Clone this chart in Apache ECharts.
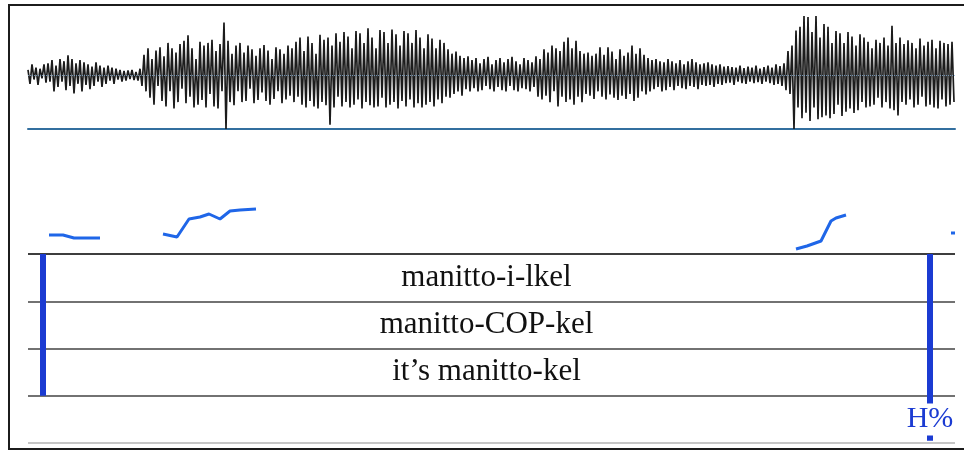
<!DOCTYPE html>
<html>
<head>
<meta charset="utf-8">
<script src="https://cdn.jsdelivr.net/npm/echarts@6/dist/echarts.min.js"></script>
<style>
	html,body{margin:0;padding:0;background:#fff;}
	#map{width:964px;height:452px;}
</style>
</head>
<body>
<div id="map"></div>
<script>
// time axis in ms, waveform sampled every 2 ms (amplitude 1 = full height)
var wavestep = 2;
var wavevalues = [
	0.1,-0.16,0.2,-0.08,0.14,-0.18,0.12,-0.06,0.2,-0.14,
	0.22,-0.12,0.28,-0.3,0.18,-0.22,0.3,-0.12,0.26,-0.28,
	0.37,-0.2,0.3,-0.34,0.22,-0.16,0.28,-0.3,0.24,-0.18,
	0.2,-0.26,0.16,-0.2,0.24,-0.12,0.18,-0.22,0.14,-0.16,
	0.18,-0.1,0.14,-0.16,0.12,-0.08,0.1,-0.12,0.08,-0.1,
	0.09,-0.07,0.1,-0.09,0.06,-0.1,0.12,-0.2,0.38,-0.3,
	0.5,-0.42,0.3,-0.55,0.46,-0.2,0.52,-0.48,0.35,-0.58,
	0.6,-0.3,0.5,-0.62,0.42,-0.5,0.58,-0.25,0.64,-0.52,
	0.74,-0.4,0.5,-0.6,0.3,-0.55,0.62,-0.46,0.55,-0.6,
	0.6,-0.35,0.66,-0.58,0.45,-0.62,0.58,-0.3,0.98,-1.0,
	0.64,-0.5,0.4,-0.56,0.55,-0.3,0.6,-0.5,0.42,-0.48,
	0.55,-0.25,0.48,-0.52,0.36,-0.46,0.5,-0.32,0.56,-0.48,
	0.46,-0.55,0.3,-0.44,0.52,-0.3,0.48,-0.52,0.4,-0.45,
	0.55,-0.38,0.5,-0.5,0.62,-0.4,0.7,-0.55,0.45,-0.6,
	0.72,-0.48,0.6,-0.58,0.4,-0.62,0.75,-0.5,0.66,-0.56,
	0.7,-0.92,0.55,-0.6,0.78,-0.4,0.62,-0.58,0.8,-0.5,
	0.72,-0.6,0.5,-0.55,0.82,-0.45,0.78,-0.62,0.6,-0.5,
	0.87,-0.56,0.7,-0.6,0.5,-0.58,0.84,-0.42,0.8,-0.6,
	0.6,-0.55,0.85,-0.5,0.76,-0.62,0.55,-0.48,0.82,-0.58,
	0.78,-0.45,0.6,-0.6,0.84,-0.52,0.7,-0.6,0.5,-0.55,
	0.76,-0.5,0.68,-0.58,0.5,-0.45,0.66,-0.52,0.6,-0.4,
	0.48,-0.42,0.4,-0.35,0.44,-0.3,0.36,-0.38,0.32,-0.26,
	0.35,-0.3,0.28,-0.24,0.32,-0.3,0.22,-0.28,0.3,-0.2,
	0.34,-0.26,0.2,-0.3,0.28,-0.22,0.32,-0.28,0.24,-0.3,
	0.3,-0.2,0.34,-0.28,0.26,-0.3,0.2,-0.24,0.32,-0.26,
	0.28,-0.3,0.24,-0.22,0.35,-0.4,0.3,-0.45,0.48,-0.38,
	0.42,-0.5,0.55,-0.3,0.5,-0.58,0.45,-0.4,0.62,-0.5,
	0.7,-0.45,0.5,-0.55,0.64,-0.4,0.45,-0.5,0.4,-0.35,
	0.42,-0.38,0.36,-0.44,0.4,-0.3,0.52,-0.4,0.38,-0.45,
	0.52,-0.36,0.44,-0.42,0.3,-0.46,0.48,-0.38,0.36,-0.44,
	0.42,-0.35,0.55,-0.48,0.4,-0.42,0.5,-0.3,0.38,-0.36,
	0.32,-0.3,0.28,-0.26,0.3,-0.22,0.26,-0.3,0.24,-0.28,
	0.3,-0.22,0.26,-0.28,0.22,-0.2,0.28,-0.24,0.2,-0.26,
	0.26,-0.2,0.3,-0.22,0.24,-0.26,0.2,-0.18,0.22,-0.2,
	0.24,-0.18,0.2,-0.22,0.18,-0.16,0.2,-0.18,0.16,-0.15,
	0.17,-0.14,0.15,-0.18,0.14,-0.12,0.18,-0.15,0.13,-0.16,
	0.16,-0.12,0.14,-0.15,0.18,-0.13,0.12,-0.16,0.15,-0.12,
	0.18,-0.15,0.14,-0.18,0.2,-0.16,0.17,-0.2,0.22,-0.28,
	0.45,-0.35,0.55,-1.0,0.83,-0.6,0.9,-0.8,1.1,-0.7,
	1.08,-0.85,0.8,-0.6,1.1,-0.82,0.7,-0.78,0.95,-0.75,
	0.9,-0.8,0.6,-0.72,0.82,-0.55,0.78,-0.76,0.6,-0.68,
	0.8,-0.62,0.72,-0.7,0.55,-0.65,0.76,-0.5,0.7,-0.6,
	0.62,-0.58,0.5,-0.55,0.66,-0.42,0.6,-0.6,0.7,-0.5,
	0.55,-0.62,0.92,-0.65,0.6,-0.75,0.7,-0.5,0.58,-0.55,
	0.65,-0.45,0.6,-0.6,0.5,-0.55,0.68,-0.4,0.55,-0.58,
	0.62,-0.55,0.66,-0.6,0.5,-0.62,0.64,-0.45,0.6,-0.58,
	0.58,-0.55,0.62,-0.5
];
// pitch track pieces [ms, Hz]
var pitch1 = [[21,113],[35,113],[46,107],[72,107]];
var pitch2 = [[135,115],[149,109],[161,145],[172,149],[181,155],[192,145],[202,161],[212,163],[228,165]];
var pitch3 = [[768,85],[779,91],[793,101],[803,141],[808,147],[818,153]];
var pitch4 = [[923,117],[927,117]];
// tiers
var boundaries = [15, 902];
var tiertexts = ['manitto-i-lkel', 'manitto-COP-kel', 'it\u2019s manitto-kel'];
var tonelabel = 'H%';
var duration = 927;

var mychart;
var blue = '#1b3bd2';
var pitchblue = '#1f66e8';

function wavedata()
{
	var d = [];
	for(var i=0;i<wavevalues.length;i++)
		{
			d.push([i*wavestep, wavevalues[i]]);
		}
	return d;
}
function pitchseries(data)
{
	return {
		type: 'line',
		xAxisIndex: 1,
		yAxisIndex: 1,
		data: data,
		symbol: 'none',
		silent: true,
		lineStyle: {color: pitchblue, width: 3}
	};
}
function tierdata()
{
	var d = [];
	var mid = (boundaries[0]+boundaries[1])/2;
	for(var i=0;i<tiertexts.length;i++)
		{
			d.push({name: tiertexts[i], value: [mid, 3.5-i]});
		}
	return d;
}
function display()
{
	mychart = echarts.init(document.getElementById('map'));
	var option = {
		backgroundColor: '#fff',
		animation: false,
		grid: [
			{left: 28, right: 9, top: 16, height: 113},   //waveform
			{left: 28, right: 9, top: 130, height: 124},  //pitch
			{left: 28, right: 9, top: 254, height: 189}   //text tiers
		],
		xAxis: [
			{type: 'value', gridIndex: 0, min: 0, max: duration, axisLabel: {show: false}, axisTick: {show: false}, splitLine: {show: false},
			 axisLine: {show: true, onZero: false, lineStyle: {color: '#336f9f', width: 2}}},
			{type: 'value', gridIndex: 1, min: 0, max: duration, show: false},
			{type: 'value', gridIndex: 2, min: 0, max: duration, show: false}
		],
		yAxis: [
			{type: 'value', gridIndex: 0, min: -1, max: 1.1, show: false},
			{type: 'value', gridIndex: 1, min: 75, max: 323, show: false},
			{type: 'value', gridIndex: 2, min: 0, max: 4, interval: 1,
			 axisLabel: {show: false}, axisTick: {show: false}, axisLine: {show: false},
			 splitLine: {show: true, lineStyle: {color: ['#c6c6c6','#727272','#727272','#727272','#3e3e3e'], width: 2}}}
		],
		series: [
			{
				type: 'line',
				xAxisIndex: 0,
				yAxisIndex: 0,
				data: wavedata(),
				symbol: 'none',
				silent: true,
				lineStyle: {color: '#1c1c1c', width: 1.7},
				markLine: {
					silent: true,
					symbol: 'none',
					label: {show: false},
					lineStyle: {color: '#7fa9cf', type: 'dotted', width: 1, opacity: 0.8},
					data: [{yAxis: 0}]
				}
			},
			pitchseries(pitch1),
			pitchseries(pitch2),
			pitchseries(pitch3),
			pitchseries(pitch4),
			{
				type: 'line',
				xAxisIndex: 2,
				yAxisIndex: 2,
				z: 2,
				data: [[boundaries[0],4],[boundaries[0],1]],
				symbol: 'none',
				silent: true,
				lineStyle: {color: blue, width: 6, cap: 'butt'}
			},
			{
				type: 'line',
				xAxisIndex: 2,
				yAxisIndex: 2,
				z: 2,
				data: [[boundaries[1],4],[boundaries[1],0.05]],
				symbol: 'none',
				silent: true,
				lineStyle: {color: blue, width: 6, cap: 'butt'}
			},
			{
				type: 'scatter',
				xAxisIndex: 2,
				yAxisIndex: 2,
				z: 5,
				symbolSize: 0,
				silent: true,
				itemStyle: {opacity: 1},
				data: tierdata(),
				label: {
					show: true,
					position: 'inside',
					formatter: '{b}',
					fontFamily: 'Liberation Serif',
					fontSize: 31,
					color: '#111'
				}
			},
			{
				type: 'scatter',
				xAxisIndex: 2,
				yAxisIndex: 2,
				z: 5,
				symbolSize: 0,
				silent: true,
				itemStyle: {opacity: 1},
				data: [{name: tonelabel, value: [boundaries[1], 0.5]}],
				label: {
					show: true,
					position: 'inside',
					formatter: '{b}',
					fontFamily: 'Liberation Serif',
					fontSize: 30,
					color: blue,
					backgroundColor: '#fff',
					padding: [1, 0]
				}
			}
		],
		graphic: [
			{type: 'rect', silent: true, z: 100, shape: {x: 9, y: 5, width: 1000, height: 444},
			 style: {fill: 'none', stroke: '#1c1c1c', lineWidth: 2}}
		]
	};
	mychart.setOption(option);
}
display();
</script>
</body>
</html>
